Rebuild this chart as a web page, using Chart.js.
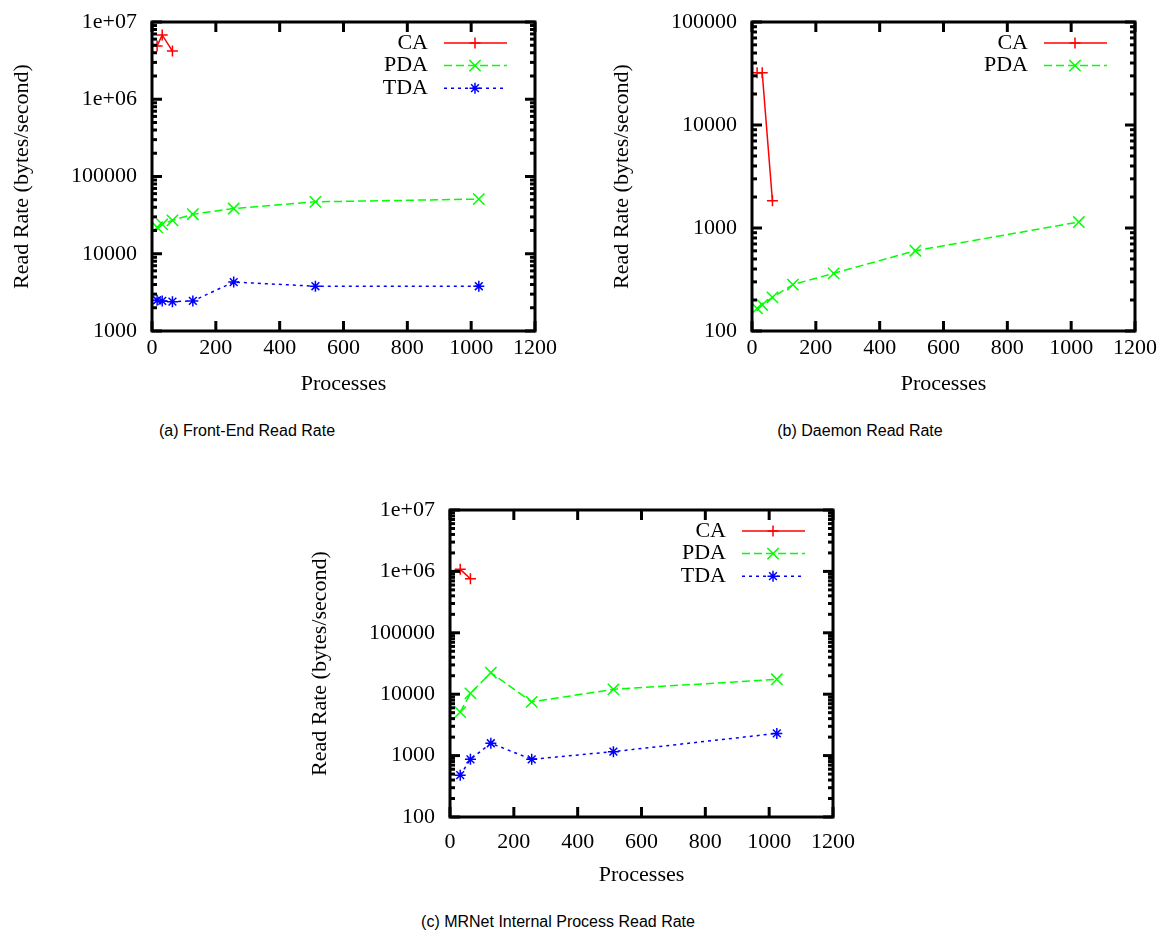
<!DOCTYPE html>
<html><head><meta charset="utf-8">
<script src="https://cdn.jsdelivr.net/npm/chart.js@4/dist/chart.umd.min.js"></script>
<style>
html,body{margin:0;padding:0;background:#fff}
body{width:1161px;height:934px;position:relative;overflow:hidden}
canvas{position:absolute}
.cap{position:absolute;font-family:"Liberation Sans",Arial,sans-serif;font-size:16px;color:#000;white-space:nowrap;transform:translate(-50%,-50%)}
</style></head><body>
<canvas id="chartA" width="560" height="397" style="left:0;top:0"></canvas>
<canvas id="chartB" width="560" height="397" style="left:600px;top:0"></canvas>
<canvas id="chartC" width="560" height="400" style="left:298px;top:488px"></canvas>
<div class="cap" style="left:247px;top:431px">(a) Front-End Read Rate</div>
<div class="cap" style="left:860px;top:431px">(b) Daemon Read Rate</div>
<div class="cap" style="left:558px;top:922px">(c) MRNet Internal Process Read Rate</div>
<script>
// ---- data ----
const procAB = [16, 32, 64, 128, 256, 512, 1024];
const procCA_AB = [16, 32, 64];
const frontCA = [4.9e6, 6.8e6, 4.2e6];
const frontPDA = [22000, 24000, 27000, 32500, 38500, 47000, 51000];
const frontTDA = [2500, 2450, 2400, 2450, 4300, 3800, 3800];
const daemonCA = [32200, 32200, 1840];
const daemonPDA = [166, 179, 212, 282, 363, 602, 1143];
const procC = [32, 64, 128, 256, 512, 1024];
const procCA_C = [32, 64];
const internalCA = [1.08e6, 7.6e5];
const internalPDA = [5100, 10300, 22400, 7500, 12000, 17500];
const internalTDA = [480, 870, 1590, 870, 1160, 2300];
const xTicks = [0, 200, 400, 600, 800, 1000, 1200];
const yTicksA = [1e3, 1e4, 1e5, 1e6, 1e7];
const yLabelsA = ['1000', '10000', '100000', '1e+06', '1e+07'];
const yTicksB = [1e2, 1e3, 1e4, 1e5];
const yLabelsB = ['100', '1000', '10000', '100000'];
const yTicksC = [1e2, 1e3, 1e4, 1e5, 1e6, 1e7];
const yLabelsC = ['100', '1000', '10000', '100000', '1e+06', '1e+07'];
const seriesNames = ['CA', 'PDA', 'TDA'];
const xTitle = 'Processes';
const yTitle = 'Read Rate (bytes/second)';

const SERIF = '"Liberation Serif", "Times New Roman", serif';
const styles = {
  CA: {borderColor: '#ff0000', borderDash: [], pointStyle: 'cross', pointRadius: 5.5},
  PDA: {borderColor: '#00ff00', borderDash: [8, 4], pointStyle: 'crossRot', pointRadius: 8},
  TDA: {borderColor: '#0000ff', borderDash: [3, 4], pointStyle: 'star', pointRadius: 5.5}
};
function ds(name, xs, ys) {
  const s = styles[name];
  return Object.assign({
    label: name,
    data: xs.map((x, i) => ({x: x, y: ys[i]})),
    showLine: true, borderWidth: 1.5, pointBorderWidth: 1.5,
    pointBorderColor: s.borderColor, pointBackgroundColor: s.borderColor,
    tension: 0, clip: false, fill: false
  }, s);
}

function drawMarker(ctx, style, r, x, y) {
  if (Chart.helpers && Chart.helpers.drawPoint) {
    Chart.helpers.drawPoint(ctx, {pointStyle: style, radius: r, borderWidth: 1.5, rotation: 0}, x, y);
    return;
  }
  ctx.beginPath();
  if (style !== 'crossRot') { ctx.moveTo(x - r, y); ctx.lineTo(x + r, y); ctx.moveTo(x, y - r); ctx.lineTo(x, y + r); }
  if (style !== 'cross') { const d = r * 0.707; ctx.moveTo(x - d, y - d); ctx.lineTo(x + d, y + d); ctx.moveTo(x - d, y + d); ctx.lineTo(x + d, y - d); }
  ctx.stroke();
}

const framePlugin = {
  id: 'gnuFrame',
  afterDatasetsDraw(chart) {
    const {ctx, chartArea: a, scales: {x, y}} = chart;
    ctx.save();
    ctx.strokeStyle = '#000'; ctx.lineWidth = 3; ctx.setLineDash([]);
    const seg = (x1, y1, x2, y2) => { ctx.beginPath(); ctx.moveTo(x1, y1); ctx.lineTo(x2, y2); ctx.stroke(); };
    x.ticks.forEach(t => {
      const px = x.getPixelForValue(t.value);
      seg(px, a.bottom, px, a.bottom - 10); seg(px, a.top, px, a.top + 10);
    });
    y.ticks.forEach(t => {
      const py = y.getPixelForValue(t.value);
      seg(a.left, py, a.left + 10, py); seg(a.right, py, a.right - 10, py);
      for (let k = 2; k <= 9; k++) {
        const v = k * t.value;
        if (v >= y.max) break;
        const pm = y.getPixelForValue(v);
        seg(a.left, pm, a.left + 5, pm); seg(a.right, pm, a.right - 5, pm);
      }
    });
    ctx.strokeRect(a.left, a.top, a.right - a.left, a.bottom - a.top);
    ctx.restore();
  }
};

const keyPlugin = {
  id: 'gnuKey',
  afterDraw(chart) {
    const {ctx, chartArea: a} = chart;
    chart.data.datasets.forEach((d, i) => {
      const y = a.top + 21 + i * 22.6;
      ctx.save();
      ctx.font = '22px ' + SERIF; ctx.fillStyle = '#000';
      ctx.textAlign = 'right'; ctx.textBaseline = 'middle';
      ctx.fillText(d.label, a.right - 107, y);
      ctx.strokeStyle = d.borderColor; ctx.lineWidth = d.borderWidth;
      ctx.setLineDash(d.borderDash);
      ctx.beginPath(); ctx.moveTo(a.right - 91, y); ctx.lineTo(a.right - 28, y); ctx.stroke();
      ctx.setLineDash([]); ctx.lineWidth = 1.5;
      drawMarker(ctx, d.pointStyle, d.pointRadius, a.right - 60, y);
      ctx.restore();
    });
  }
};

function makeChart(id, datasets, yTicks, yLabels, xLabelGap, xAxisHeight) {
  new Chart(document.getElementById(id), {
    type: 'scatter',
    data: {datasets: datasets},
    options: {
      responsive: false, animation: false, events: [],
      layout: {padding: {top: 22, right: 25, left: 0, bottom: 0}},
      plugins: {legend: {display: false}, tooltip: {enabled: false}},
      scales: {
        x: {
          type: 'linear', min: xTicks[0], max: xTicks[xTicks.length - 1],
          afterBuildTicks: s => { s.ticks = xTicks.map(v => ({value: v})); },
          afterFit: s => { s.height = xAxisHeight; },
          grid: {display: false, drawTicks: true, tickLength: xLabelGap}, border: {display: false},
          ticks: {padding: 0, color: '#000', font: {family: SERIF, size: 22}, maxRotation: 0, autoSkip: false,
                  callback: v => String(v)},
          title: {display: true, text: xTitle, color: '#000', font: {family: SERIF, size: 22}, padding: 0}
        },
        y: {
          type: 'logarithmic', min: yTicks[0], max: yTicks[yTicks.length - 1],
          afterBuildTicks: s => { s.ticks = yTicks.map(v => ({value: v})); },
          afterFit: s => { s.width = 152; },
          grid: {display: false, drawTicks: true, tickLength: 15}, border: {display: false},
          ticks: {padding: 0, color: '#000', font: {family: SERIF, size: 22}, autoSkip: false,
                  callback: v => yLabels[yTicks.indexOf(v)]},
          title: {display: true, text: yTitle, color: '#000', font: {family: SERIF, size: 22}, padding: {top: 9, bottom: 0}}
        }
      }
    },
    plugins: [framePlugin, keyPlugin]
  });
}

makeChart('chartA', [
  ds(seriesNames[0], procCA_AB, frontCA),
  ds(seriesNames[1], procAB, frontPDA),
  ds(seriesNames[2], procAB, frontTDA)
], yTicksA, yLabelsA, 4, 66);
makeChart('chartB', [
  ds(seriesNames[0], procCA_AB, daemonCA),
  ds(seriesNames[1], procAB, daemonPDA)
], yTicksB, yLabelsB, 4, 66);
makeChart('chartC', [
  ds(seriesNames[0], procCA_C, internalCA),
  ds(seriesNames[1], procC, internalPDA),
  ds(seriesNames[2], procC, internalTDA)
], yTicksC, yLabelsC, 12, 71);
</script>
</body></html>
